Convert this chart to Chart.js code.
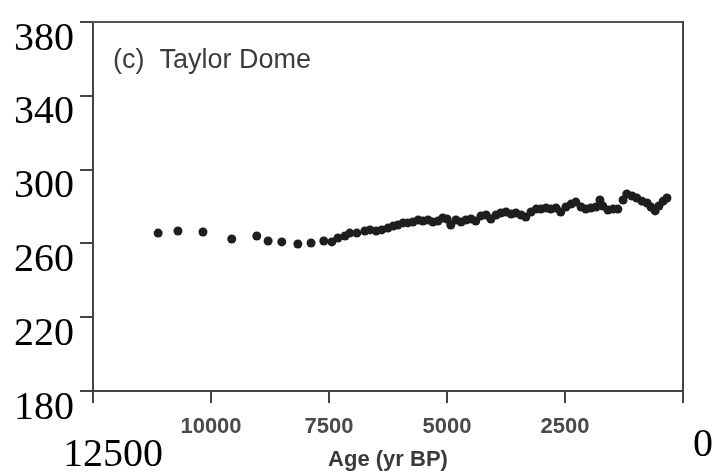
<!DOCTYPE html>
<html>
<head>
<meta charset="utf-8">
<script src="https://cdn.jsdelivr.net/npm/chart.js@4"></script>
<style>
  body { margin: 0; background: #fff; }
  canvas { display: block; }
</style>
</head>
<body>
<canvas id="taylorChart" width="715" height="476"></canvas>
<script>
// Taylor Dome CO2 record
const ages = [11120, 10700, 10170, 9560, 9030, 8790, 8500, 8160, 7880, 7610,
  7440, 7310, 7160, 7060, 6910, 6740, 6630, 6500, 6380, 6250,
  6140, 6040, 5930, 5830, 5720, 5610, 5510, 5400, 5300, 5190,
  5090, 5000, 4920, 4810, 4700, 4600, 4490, 4390, 4280, 4170,
  4070, 3960, 3860, 3750, 3640, 3540, 3430, 3330, 3220, 3110,
  3010, 2900, 2800, 2690, 2590, 2480, 2370, 2270, 2160, 2060,
  1950, 1840, 1760, 1700, 1590, 1480, 1380, 1270, 1190, 1080,
  980, 870, 760, 680, 590, 510, 420, 340];
const co2 = [265.6, 266.7, 266.2, 262.4, 264.0, 261.3, 260.8, 259.7, 260.2, 261.3,
  260.8, 262.9, 264.0, 265.6, 265.6, 266.7, 267.3, 266.7, 267.3, 268.3,
  269.4, 270.0, 271.1, 271.1, 271.6, 272.7, 272.1, 272.7, 271.6, 272.1,
  273.8, 273.2, 270.0, 272.7, 271.6, 272.7, 273.2, 272.1, 274.9, 275.4,
  273.2, 275.4, 276.5, 277.0, 275.9, 276.5, 275.4, 274.3, 277.0, 278.6,
  278.6, 279.2, 278.6, 279.2, 277.0, 279.7, 281.3, 282.4, 279.7, 278.6,
  279.2, 279.7, 283.5, 280.3, 278.1, 278.6, 278.6, 283.5, 286.8, 285.7,
  284.6, 282.9, 281.9, 279.7, 277.6, 280.3, 282.9, 284.6];

const yTickLabels = [180, 220, 260, 300, 340, 380];
const xBigLabels = [12500, 0];       // the large serif labels at the ends
const panelLabel = '(c)  Taylor Dome';
const axisTitle = 'Age (yr BP)';

const points = ages.map((a, i) => ({x: a, y: co2[i]}));

const serif = "'Liberation Serif', 'DejaVu Serif', serif";
const sans = "'Liberation Sans', Arial, sans-serif";

// panel label inside the plot
const panelLabelPlugin = {
  id: 'panelLabel',
  afterDraw(chart) {
    const ctx = chart.ctx;
    const area = chart.chartArea;
    ctx.save();
    ctx.font = '27px ' + sans;
    ctx.fillStyle = '#3c3c3c';
    ctx.textBaseline = 'alphabetic';
    ctx.fillText(panelLabel, area.left + 20, area.top + 46);
    ctx.restore();
  }
};

function bigFont(value) {
  // the "0" sits a bit higher than "12500" in the figure
  return { family: serif, size: 40, lineHeight: value === 0 ? 1.5 : 2.0 };
}

const ctx = document.getElementById('taylorChart').getContext('2d');
new Chart(ctx, {
  type: 'scatter',
  data: {
    datasets: [{
      data: points,
      backgroundColor: '#1e1e1e',
      borderWidth: 0,
      pointRadius: 4.5
    }]
  },
  options: {
    responsive: false,
    animation: false,
    layout: { padding: { top: 22, right: 32, left: 0, bottom: 0 } },
    plugins: { legend: { display: false }, tooltip: { enabled: false } },
    scales: {
      x: {
        type: 'linear',
        position: 'bottom',
        reverse: true,
        min: 0,
        max: 12500,
        afterFit(scale) { scale.height = 85; scale.paddingLeft = 0; scale.paddingRight = 0; },
        border: { display: true, color: '#444', width: 2 },
        grid: { drawOnChartArea: false, color: '#444', lineWidth: 2, tickLength: 12 },
        ticks: {
          stepSize: 2500,
          padding: 12,
          maxRotation: 0,
          autoSkip: false,
          callback: v => xBigLabels.includes(v) ? '    ' + v : String(v),
          font: c => xBigLabels.includes(c.tick && c.tick.value)
            ? bigFont(c.tick.value)
            : { family: sans, size: 22, weight: 'bold', lineHeight: 1.1 },
          color: c => xBigLabels.includes(c.tick && c.tick.value) ? '#000' : '#4a4a4a'
        },
        title: {
          display: true,
          text: axisTitle,
          color: '#3a3a3a',
          font: { family: sans, size: 22, weight: 'bold' },
          padding: { top: 0, bottom: 3 }
        }
      },
      y: {
        position: 'left',
        min: 180,
        max: 380,
        afterFit(scale) { scale.width = 93; scale.paddingTop = 0; scale.paddingBottom = 0; },
        border: { display: true, color: '#444', width: 2 },
        grid: { drawOnChartArea: false, color: '#444', lineWidth: 2, tickLength: 13 },
        ticks: {
          stepSize: 20,
          padding: 6,
          labelOffset: 17,
          color: '#000',
          font: { family: serif, size: 40 },
          callback: v => yTickLabels.includes(v) ? String(v) : ''
        }
      },
      xTop: {
        type: 'linear',
        position: 'top',
        afterFit(scale) { scale.height = 0; scale.paddingLeft = 0; scale.paddingRight = 0; },
        border: { display: true, color: '#555', width: 2 },
        grid: { display: false, drawTicks: false },
        ticks: { display: false }
      },
      yRight: {
        type: 'linear',
        position: 'right',
        afterFit(scale) { scale.width = 0; scale.paddingTop = 0; scale.paddingBottom = 0; },
        border: { display: true, color: '#444', width: 2 },
        grid: { display: false, drawTicks: false },
        ticks: { display: false }
      }
    }
  },
  plugins: [panelLabelPlugin]
});
</script>
</body>
</html>
